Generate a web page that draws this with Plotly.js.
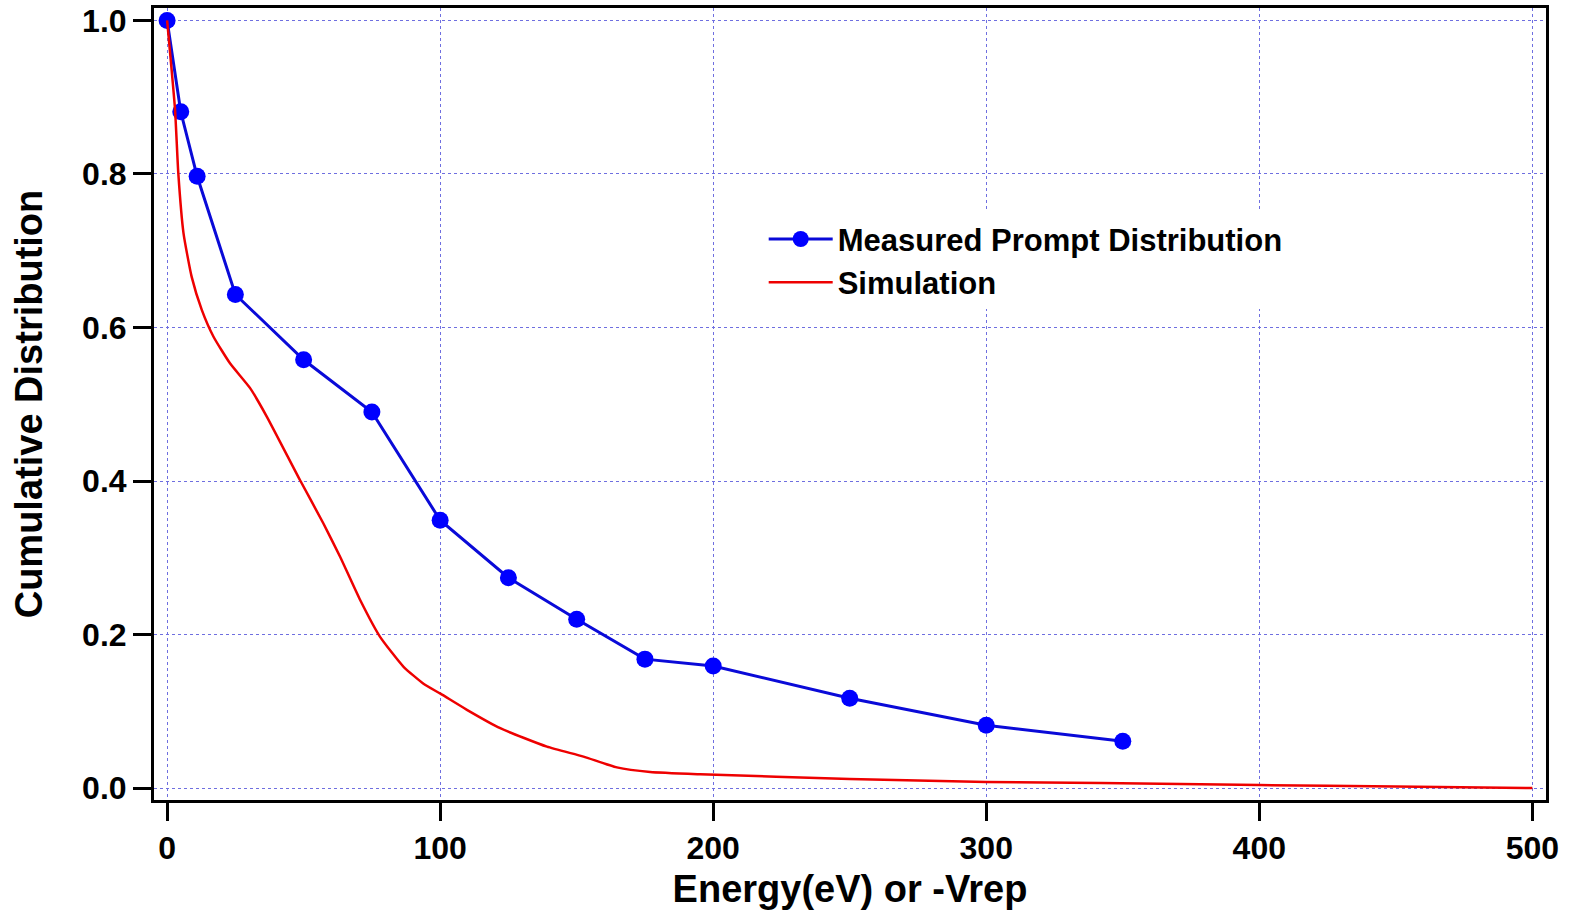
<!DOCTYPE html>
<html>
<head>
<meta charset="utf-8">
<script src="https://cdn.plot.ly/plotly-3.0.1.min.js"></script>
<style>
  html, body { margin: 0; padding: 0; background: #ffffff; }
  #chart { width: 1571px; height: 912px; }
</style>
</head>
<body>
<div id="chart"></div>
<script>
// Measured prompt distribution (blue markers + line)
const measuredEnergy = [0, 5, 11, 25, 50, 75, 100, 125, 150, 175, 200, 250, 300, 350];
const measuredCum    = [1.0, 0.881, 0.797, 0.643, 0.558, 0.490, 0.349, 0.274, 0.220, 0.168, 0.159, 0.117, 0.082, 0.061];

// Simulation (red curve)
const simEnergy = [0, 2.9, 4.1, 6.0, 9.0, 12.7, 17.0, 23.1, 30.4, 36.5, 48.7, 57.2, 63.4, 70.7, 78.0, 86.6, 93.9, 100.1, 109.8, 122.0, 139.1, 152.5, 164.7, 176.9, 195.2, 250, 300, 342, 400, 450, 500];
const simCum    = [1.0, 0.884, 0.801, 0.723, 0.666, 0.623, 0.588, 0.553, 0.521, 0.484, 0.401, 0.345, 0.301, 0.245, 0.197, 0.158, 0.136, 0.123, 0.102, 0.078, 0.054, 0.041, 0.027, 0.021, 0.018, 0.012, 0.008, 0.0065, 0.004, 0.002, 0.0];

const xTicks = [0, 100, 200, 300, 400, 500];
const yTicks = [0.0, 0.2, 0.4, 0.6, 0.8, 1.0];
const yTickText = ['0.0', '0.2', '0.4', '0.6', '0.8', '1.0'];

const FONT = '"Liberation Sans", Arial, Helvetica, sans-serif';

const traces = [
  {
    x: measuredEnergy, y: measuredCum,
    type: 'scatter', mode: 'lines+markers',
    name: 'Measured Prompt Distribution',
    line: { color: '#0a0ad8', width: 3 },
    marker: { color: '#0000ff', size: 17, symbol: 'circle' }
  },
  {
    x: simEnergy, y: simCum,
    type: 'scatter', mode: 'lines',
    name: 'Simulation',
    line: { color: '#ee0000', width: 2.5, shape: 'spline', smoothing: 0.5 }
  }
];

const axisCommon = {
  showline: true, linecolor: '#000000', linewidth: 3, mirror: true,
  ticks: 'outside', ticklen: 18, tickwidth: 3, tickcolor: '#000000',
  showgrid: true, gridcolor: '#6f6fe0', gridwidth: 1, griddash: 'dot',
  zeroline: false,
  tickfont: { family: FONT, size: 32, color: '#000000', weight: 'bold' }
};

const layout = {
  width: 1571, height: 912,
  paper_bgcolor: '#ffffff', plot_bgcolor: '#ffffff',
  margin: { l: 154, r: 25, t: 8, b: 112 },
  showlegend: true,
  legend: {
    x: 0.438, y: 0.742, xanchor: 'left', yanchor: 'top',
    bgcolor: '#ffffff', borderwidth: 0,
    itemwidth: 64,
    font: { family: FONT, size: 31, color: '#000000', weight: 'bold' },
    tracegroupgap: 0
  },
  xaxis: Object.assign({}, axisCommon, {
    range: [-4.8, 505],
    tickvals: xTicks,
    ticktext: xTicks.map(String),
    title: { text: 'Energy(eV) or -Vrep', standoff: 10,
             font: { family: FONT, size: 38, color: '#000000', weight: 'bold' } }
  }),
  yaxis: Object.assign({}, axisCommon, {
    range: [-0.0155, 1.0162],
    tickvals: yTicks,
    ticktext: yTickText,
    title: { text: 'Cumulative Distribution', standoff: 28,
             font: { family: FONT, size: 38, color: '#000000', weight: 'bold' } }
  })
};

Plotly.newPlot('chart', traces, layout, { displayModeBar: false, staticPlot: true });
</script>
</body>
</html>
